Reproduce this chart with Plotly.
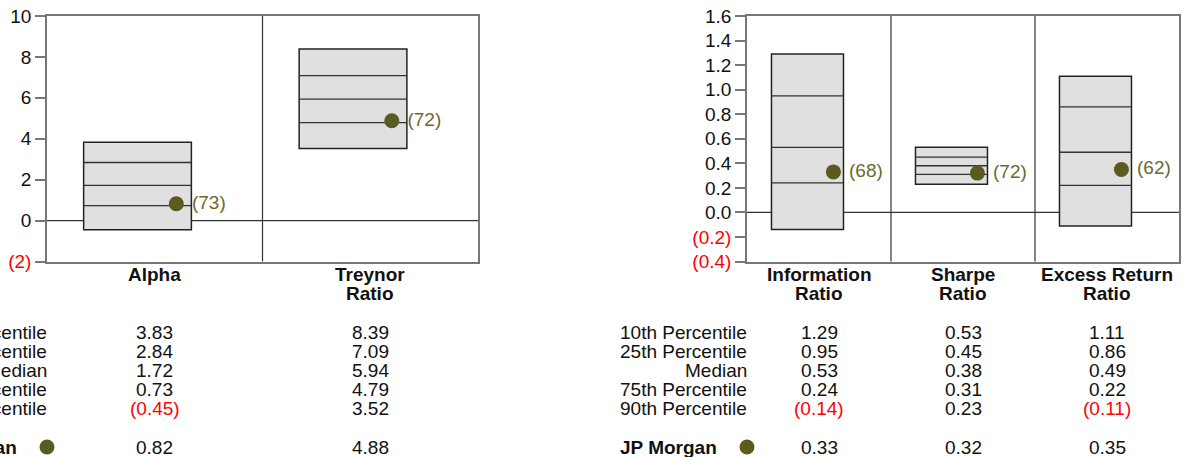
import plotly.graph_objects as go

W, H = 1183, 457

# left panel data (percentiles of peer group + JP Morgan value and rank)
left_metrics = [["Alpha"], ["Treynor", "Ratio"]]
left_p10 = [3.83, 8.39]
left_p25 = [2.84, 7.09]
left_med = [1.72, 5.94]
left_p75 = [0.73, 4.79]
left_p90 = [-0.45, 3.52]
left_jpm = [0.82, 4.88]
left_rank = [73, 72]
left_yticks = [-2, 0, 2, 4, 6, 8, 10]

# right panel data
right_metrics = [["Information", "Ratio"], ["Sharpe", "Ratio"], ["Excess Return", "Ratio"]]
right_p10 = [1.29, 0.53, 1.11]
right_p25 = [0.95, 0.45, 0.86]
right_med = [0.53, 0.38, 0.49]
right_p75 = [0.24, 0.31, 0.22]
right_p90 = [-0.14, 0.23, -0.11]
right_jpm = [0.33, 0.32, 0.35]
right_rank = [68, 72, 62]
right_yticks = [-0.4, -0.2, 0.0, 0.2, 0.4, 0.6, 0.8, 1.0, 1.2, 1.4, 1.6]

row_labels = ["10th Percentile", "25th Percentile", "Median", "75th Percentile", "90th Percentile"]
manager = "JP Morgan"

FONT = "Liberation Sans, Arial, sans-serif"
FS = 19
DOT = "#5b5a1f"
DOT_TXT = "#6b6a2c"
RED = "#ff0000"

LEFT_DOM = [47 / W, 478 / W]
RIGHT_DOM = [747 / W, 1179 / W]


def py(pix):
    # pixel row -> paper y (figure has no margins)
    return 1 - pix / H


def fmt(v, dec=2, color=True):
    s = "{:.{d}f}".format(abs(v), d=dec)
    if v < 0:
        s = "(" + s + ")"
        if color:
            s = "<span style='color:" + RED + "'>" + s + "</span>"
    return s


fig = go.Figure()
shapes = []
annotations = []


def add_panel(xa, ya, dom, metrics, p10, p25, med, p75, p90, jpm, rank):
    n = len(metrics)
    xref, yref = xa, ya
    # zero line
    shapes.append(dict(type="line", xref=xref + " domain", yref=yref, x0=0, x1=1, y0=0, y1=0,
                       line=dict(color="#333", width=1.2), layer="below"))
    # category dividers
    for i in range(1, n):
        shapes.append(dict(type="line", xref=xref, yref=yref + " domain", x0=i, x1=i, y0=0, y1=1,
                           line=dict(color="#333", width=1.2), layer="below"))
    for i in range(n):
        x0, x1 = i + 0.17, i + 0.67
        shapes.append(dict(type="rect", xref=xref, yref=yref, x0=x0, x1=x1, y0=p90[i], y1=p10[i],
                           fillcolor="#e0e0e0", line=dict(color="#222", width=1.5), layer="below"))
        for v in (p25[i], med[i], p75[i]):
            shapes.append(dict(type="line", xref=xref, yref=yref, x0=x0, x1=x1, y0=v, y1=v,
                               line=dict(color="#333", width=1.3), layer="below"))
        # category label lines
        for k, line in enumerate(metrics[i]):
            annotations.append(dict(xref=xref, yref="paper", x=i + 0.5, y=py(274.5 + 18.5 * k),
                                    text="<b>" + line + "</b>", showarrow=False,
                                    xanchor="center", yanchor="middle",
                                    font=dict(size=FS, color="#111")))
        # table values
        col = [p10[i], p25[i], med[i], p75[i], p90[i]]
        for k, v in enumerate(col):
            annotations.append(dict(xref=xref, yref="paper", x=i + 0.5, y=py(332.5 + 19 * k),
                                    text=fmt(v), showarrow=False, xanchor="center", yanchor="middle",
                                    font=dict(size=FS, color="#111")))
        annotations.append(dict(xref=xref, yref="paper", x=i + 0.5, y=py(447),
                                text=fmt(jpm[i]), showarrow=False, xanchor="center", yanchor="middle",
                                font=dict(size=FS, color="#111")))

    # row labels
    for k, lab in enumerate(row_labels):
        annotations.append(dict(xref=xref, yref="paper", x=0, xshift=2, y=py(332.5 + 19 * k), text=lab,
                                showarrow=False, xanchor="right", yanchor="middle",
                                font=dict(size=FS, color="#111")))
    annotations.append(dict(xref=xref, yref="paper", x=0, xshift=-28, y=py(447),
                            text="<b>" + manager + "</b>", showarrow=False,
                            xanchor="right", yanchor="middle", font=dict(size=FS, color="#111")))
    shapes.append(dict(type="circle", xref="paper", yref="paper", xsizemode="pixel", ysizemode="pixel",
                       xanchor=dom[0], yanchor=py(447), x0=-7.5, x1=7.5, y0=-7.5, y1=7.5,
                       fillcolor=DOT, line=dict(color=DOT, width=0)))

    # JP Morgan markers with peer rank
    fig.add_trace(go.Scatter(x=[i + 0.6 for i in range(n)], y=jpm, mode="markers+text",
                             text=[" (" + str(r) + ")" for r in rank], textposition="middle right",
                             textfont=dict(size=FS, color=DOT_TXT),
                             marker=dict(size=15, color=DOT), cliponaxis=False,
                             xaxis=xa, yaxis=ya, showlegend=False, hoverinfo="skip"))


add_panel("x", "y", LEFT_DOM, left_metrics, left_p10, left_p25, left_med, left_p75, left_p90,
          left_jpm, left_rank)
add_panel("x2", "y2", RIGHT_DOM, right_metrics, right_p10, right_p25, right_med, right_p75, right_p90,
          right_jpm, right_rank)

ydom = [py(261.5), py(16)]
axis_line = dict(showline=True, mirror=True, linecolor="#777", linewidth=1.5,
                 showgrid=False, zeroline=False, fixedrange=True, automargin=False)


def ytext(vals, dec):
    return [fmt(v, dec) if abs(v) > 1e-9 else "{:.{d}f}".format(0, d=dec) for v in vals]


fig.update_layout(
    width=W, height=H,
    margin=dict(l=0, r=0, t=0, b=0, autoexpand=False),
    paper_bgcolor="white", plot_bgcolor="white",
    font=dict(family=FONT, size=FS, color="#111"),
    showlegend=False,
    xaxis=dict(domain=LEFT_DOM, range=[0, len(left_p10)], showticklabels=False, ticks="", **axis_line),
    yaxis=dict(domain=ydom, range=[-2, 10], tickvals=left_yticks, ticktext=ytext(left_yticks, 0),
               ticks="outside", ticklen=10, tickcolor="#777", tickwidth=1.5,
               tickfont=dict(size=FS, color="#111"), **axis_line),
    xaxis2=dict(domain=RIGHT_DOM, range=[0, len(right_p10)], showticklabels=False, ticks="",
                anchor="y2", **axis_line),
    yaxis2=dict(domain=ydom, range=[-0.4, 1.6], tickvals=right_yticks, ticktext=ytext(right_yticks, 1),
                ticks="outside", ticklen=10, tickcolor="#777", tickwidth=1.5, anchor="x2",
                tickfont=dict(size=FS, color="#111"), **axis_line),
    shapes=shapes,
    annotations=annotations,
)

# drop the default page margin so the figure sits at the window's top-left corner
fig.write_html("out.html", config={"displayModeBar": False},
               post_script="document.body.style.margin='0';")
